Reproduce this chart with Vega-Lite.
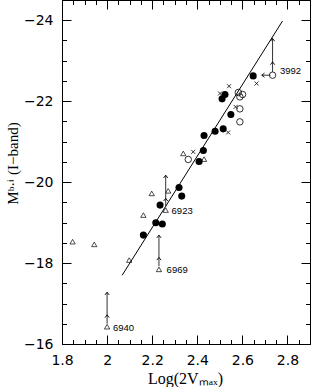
{
  "$schema": "https://vega.github.io/schema/vega-lite/v6.json",
  "width": 248,
  "height": 344,
  "autosize": {"type": "none"},
  "padding": {"left": 62, "top": 0, "right": 1, "bottom": 43},
  "background": "white",
  "config": {
    "view": {"stroke": "black", "strokeWidth": 1},
    "axis": {"domain": false, "grid": false, "tickColor": "black", "tickWidth": 1, "labelColor": "black", "titleColor": "black"}
  },
  "datasets": {
    "fit": [{"x": 2.067, "y": -17.70}, {"x": 2.778, "y": -23.98}],
    "pts": [
      {"x": 2.648, "y": -22.625, "t": "f"},
      {"x": 2.523, "y": -22.165, "t": "f"},
      {"x": 2.510, "y": -22.057, "t": "f"},
      {"x": 2.549, "y": -21.672, "t": "f"},
      {"x": 2.515, "y": -21.316, "t": "f"},
      {"x": 2.479, "y": -21.259, "t": "f"},
      {"x": 2.430, "y": -21.153, "t": "f"},
      {"x": 2.427, "y": -20.783, "t": "f"},
      {"x": 2.408, "y": -20.511, "t": "f"},
      {"x": 2.319, "y": -19.869, "t": "f"},
      {"x": 2.331, "y": -19.654, "t": "f"},
      {"x": 2.235, "y": -19.432, "t": "f"},
      {"x": 2.216, "y": -18.995, "t": "f"},
      {"x": 2.245, "y": -18.963, "t": "f"},
      {"x": 2.161, "y": -18.691, "t": "f"},
      {"x": 2.734, "y": -22.642, "t": "o"},
      {"x": 2.582, "y": -22.215, "t": "o"},
      {"x": 2.601, "y": -22.165, "t": "o"},
      {"x": 2.589, "y": -22.106, "t": "o"},
      {"x": 2.589, "y": -21.810, "t": "o"},
      {"x": 2.589, "y": -21.489, "t": "o"},
      {"x": 2.360, "y": -20.560, "t": "o"},
      {"x": 2.663, "y": -22.437, "t": "x"},
      {"x": 2.541, "y": -22.370, "t": "x"},
      {"x": 2.501, "y": -22.190, "t": "x"},
      {"x": 2.570, "y": -21.859, "t": "x"},
      {"x": 2.537, "y": -21.227, "t": "x"},
      {"x": 2.382, "y": -20.748, "t": "x"},
      {"x": 2.338, "y": -20.709, "t": "t"},
      {"x": 2.430, "y": -20.568, "t": "t"},
      {"x": 2.198, "y": -19.721, "t": "t"},
      {"x": 2.271, "y": -19.785, "t": "t"},
      {"x": 2.260, "y": -19.309, "t": "t"},
      {"x": 2.161, "y": -19.185, "t": "t"},
      {"x": 2.230, "y": -17.844, "t": "t"},
      {"x": 2.098, "y": -18.074, "t": "t"},
      {"x": 1.847, "y": -18.528, "t": "t"},
      {"x": 1.943, "y": -18.462, "t": "t"},
      {"x": 2.000, "y": -16.427, "t": "t"}
    ],
    "shafts": [
      {"x": 2.000, "y": -16.50, "y2": -17.28},
      {"x": 2.230, "y": -17.92, "y2": -18.69},
      {"x": 2.260, "y": -19.39, "y2": -20.17},
      {"x": 2.734, "y": -22.72, "y2": -23.55}
    ],
    "hshaft": [{"x": 2.725, "x2": 2.686, "y": -22.642}],
    "heads": [
      {"x": 2.000, "y": -16.72, "d": "up"},
      {"x": 2.000, "y": -17.28, "d": "up"},
      {"x": 2.230, "y": -18.14, "d": "up"},
      {"x": 2.230, "y": -18.69, "d": "up"},
      {"x": 2.260, "y": -19.60, "d": "up"},
      {"x": 2.260, "y": -20.17, "d": "up"},
      {"x": 2.734, "y": -22.97, "d": "up"},
      {"x": 2.734, "y": -23.55, "d": "up"},
      {"x": 2.686, "y": -22.642, "d": "left"}
    ],
    "labels": [
      {"x": 2.026, "y": -16.40, "text": "6940"},
      {"x": 2.264, "y": -17.84, "text": "6969"},
      {"x": 2.286, "y": -19.29, "text": "6923"},
      {"x": 2.767, "y": -22.75, "text": "3992"}
    ]
  },
  "resolve": {"axis": {"x": "independent", "y": "independent"}},
  "layer": [
    {
      "data": {"name": "fit"},
      "mark": {"type": "line", "color": "black", "strokeWidth": 1},
      "encoding": {
        "x": {"field": "x", "type": "quantitative", "scale": {"domain": [1.8, 2.9], "nice": false, "zero": false},
          "axis": {"orient": "bottom", "values": [1.8, 2, 2.2, 2.4, 2.6, 2.8], "ticks": false, "format": ".2~f",
            "labelFont": "DejaVu Sans", "labelFontSize": 14, "labelPadding": 9, "labelFlush": false,
            "title": "Log(2Vₘₐₓ)", "titleFont": "Liberation Serif", "titleFontSize": 16, "titleFontWeight": "normal",
            "titleX": 123, "titleY": 34, "titleBaseline": "middle", "titleAlign": "center"}},
        "y": {"field": "y", "type": "quantitative", "scale": {"domain": [-24.5, -16], "reverse": true, "nice": false, "zero": false},
          "axis": {"orient": "left", "values": [-16, -18, -20, -22, -24], "ticks": false,
            "labelFont": "DejaVu Sans", "labelFontSize": 14, "labelPadding": 9, "labelFlush": false,
            "title": "Mᵇ·ⁱ (I−band)", "titleFont": "Liberation Serif", "titleFontSize": 15, "titleFontWeight": "normal",
            "titleAngle": -90, "titleX": -50, "titleY": 163, "titleBaseline": "middle", "titleAlign": "center"}}
      }
    },
    {
      "data": {"name": "pts"},
      "transform": [{"filter": "datum.t === 'f'"}],
      "mark": {"type": "point", "shape": "circle", "filled": true, "color": "black", "size": 50, "opacity": 1},
      "encoding": {
        "x": {"field": "x", "type": "quantitative", "scale": {"domain": [1.8, 2.9], "nice": false, "zero": false},
          "axis": {"orient": "bottom", "values": [1.8, 2, 2.2, 2.4, 2.6, 2.8], "labels": false, "tickSize": -9, "title": null}},
        "y": {"field": "y", "type": "quantitative", "scale": {"domain": [-24.5, -16], "reverse": true, "nice": false, "zero": false},
          "axis": {"orient": "left", "values": [-16, -18, -20, -22, -24], "labels": false, "tickSize": -9, "title": null}}
      }
    },
    {
      "data": {"name": "pts"},
      "transform": [{"filter": "datum.t === 'o'"}],
      "mark": {"type": "point", "shape": "circle", "filled": false, "color": "black", "size": 42, "strokeWidth": 0.8, "opacity": 1},
      "encoding": {
        "x": {"field": "x", "type": "quantitative", "scale": {"domain": [1.8, 2.9], "nice": false, "zero": false},
          "axis": {"orient": "top", "values": [1.8, 2, 2.2, 2.4, 2.6, 2.8], "labels": false, "tickSize": -9, "title": null}},
        "y": {"field": "y", "type": "quantitative", "scale": {"domain": [-24.5, -16], "reverse": true, "nice": false, "zero": false},
          "axis": {"orient": "right", "values": [-16, -18, -20, -22, -24], "labels": false, "tickSize": -9, "title": null}}
      }
    },
    {
      "data": {"name": "pts"},
      "transform": [{"filter": "datum.t === 't'"}],
      "mark": {"type": "point", "shape": "triangle-up", "filled": false, "color": "black", "size": 28, "strokeWidth": 0.7, "opacity": 1},
      "encoding": {
        "x": {"field": "x", "type": "quantitative", "scale": {"domain": [1.8, 2.9], "nice": false, "zero": false},
          "axis": {"orient": "bottom", "values": [1.8, 1.85, 1.9, 1.95, 2, 2.05, 2.1, 2.15, 2.2, 2.25, 2.3, 2.35, 2.4, 2.45, 2.5, 2.55, 2.6, 2.65, 2.7, 2.75, 2.8, 2.85, 2.9], "labels": false, "tickSize": -4.5, "title": null}},
        "y": {"field": "y", "type": "quantitative", "scale": {"domain": [-24.5, -16], "reverse": true, "nice": false, "zero": false},
          "axis": {"orient": "left", "values": [-16, -16.5, -17, -17.5, -18, -18.5, -19, -19.5, -20, -20.5, -21, -21.5, -22, -22.5, -23, -23.5, -24, -24.5], "labels": false, "tickSize": -4.5, "title": null}}
      }
    },
    {
      "data": {"name": "pts"},
      "transform": [{"filter": "datum.t === 'x'"}],
      "mark": {"type": "point", "shape": "M-1,-1L1,1M-1,1L1,-1", "filled": false, "color": "black", "size": 16, "strokeWidth": 0.8, "opacity": 1},
      "encoding": {
        "x": {"field": "x", "type": "quantitative", "scale": {"domain": [1.8, 2.9], "nice": false, "zero": false},
          "axis": {"orient": "top", "values": [1.8, 1.85, 1.9, 1.95, 2, 2.05, 2.1, 2.15, 2.2, 2.25, 2.3, 2.35, 2.4, 2.45, 2.5, 2.55, 2.6, 2.65, 2.7, 2.75, 2.8, 2.85, 2.9], "labels": false, "tickSize": -4.5, "title": null}},
        "y": {"field": "y", "type": "quantitative", "scale": {"domain": [-24.5, -16], "reverse": true, "nice": false, "zero": false},
          "axis": {"orient": "right", "values": [-16, -16.5, -17, -17.5, -18, -18.5, -19, -19.5, -20, -20.5, -21, -21.5, -22, -22.5, -23, -23.5, -24, -24.5], "labels": false, "tickSize": -4.5, "title": null}}
      }
    },
    {
      "data": {"name": "shafts"},
      "mark": {"type": "rule", "color": "#333333", "strokeWidth": 1},
      "encoding": {
        "x": {"field": "x", "type": "quantitative", "axis": null},
        "y": {"field": "y", "type": "quantitative", "axis": null},
        "y2": {"field": "y2"}
      }
    },
    {
      "data": {"name": "hshaft"},
      "mark": {"type": "rule", "color": "#333333", "strokeWidth": 1},
      "encoding": {
        "x": {"field": "x", "type": "quantitative", "axis": null},
        "x2": {"field": "x2"},
        "y": {"field": "y", "type": "quantitative", "axis": null}
      }
    },
    {
      "data": {"name": "heads"},
      "transform": [{"filter": "datum.d === 'up'"}],
      "mark": {"type": "point", "shape": "M-1,1.3L0,0L1,1.3", "filled": false, "color": "black", "size": 18, "strokeWidth": 0.9, "opacity": 1},
      "encoding": {
        "x": {"field": "x", "type": "quantitative", "axis": null},
        "y": {"field": "y", "type": "quantitative", "axis": null}
      }
    },
    {
      "data": {"name": "heads"},
      "transform": [{"filter": "datum.d === 'left'"}],
      "mark": {"type": "point", "shape": "M1.3,-1L0,0L1.3,1", "filled": false, "color": "black", "size": 18, "strokeWidth": 0.9, "opacity": 1},
      "encoding": {
        "x": {"field": "x", "type": "quantitative", "axis": null},
        "y": {"field": "y", "type": "quantitative", "axis": null}
      }
    },
    {
      "data": {"name": "labels"},
      "mark": {"type": "text", "align": "left", "baseline": "middle", "font": "Liberation Sans", "fontSize": 9.5, "color": "black"},
      "encoding": {
        "x": {"field": "x", "type": "quantitative", "axis": null},
        "y": {"field": "y", "type": "quantitative", "axis": null},
        "text": {"field": "text"}
      }
    }
  ]
}
